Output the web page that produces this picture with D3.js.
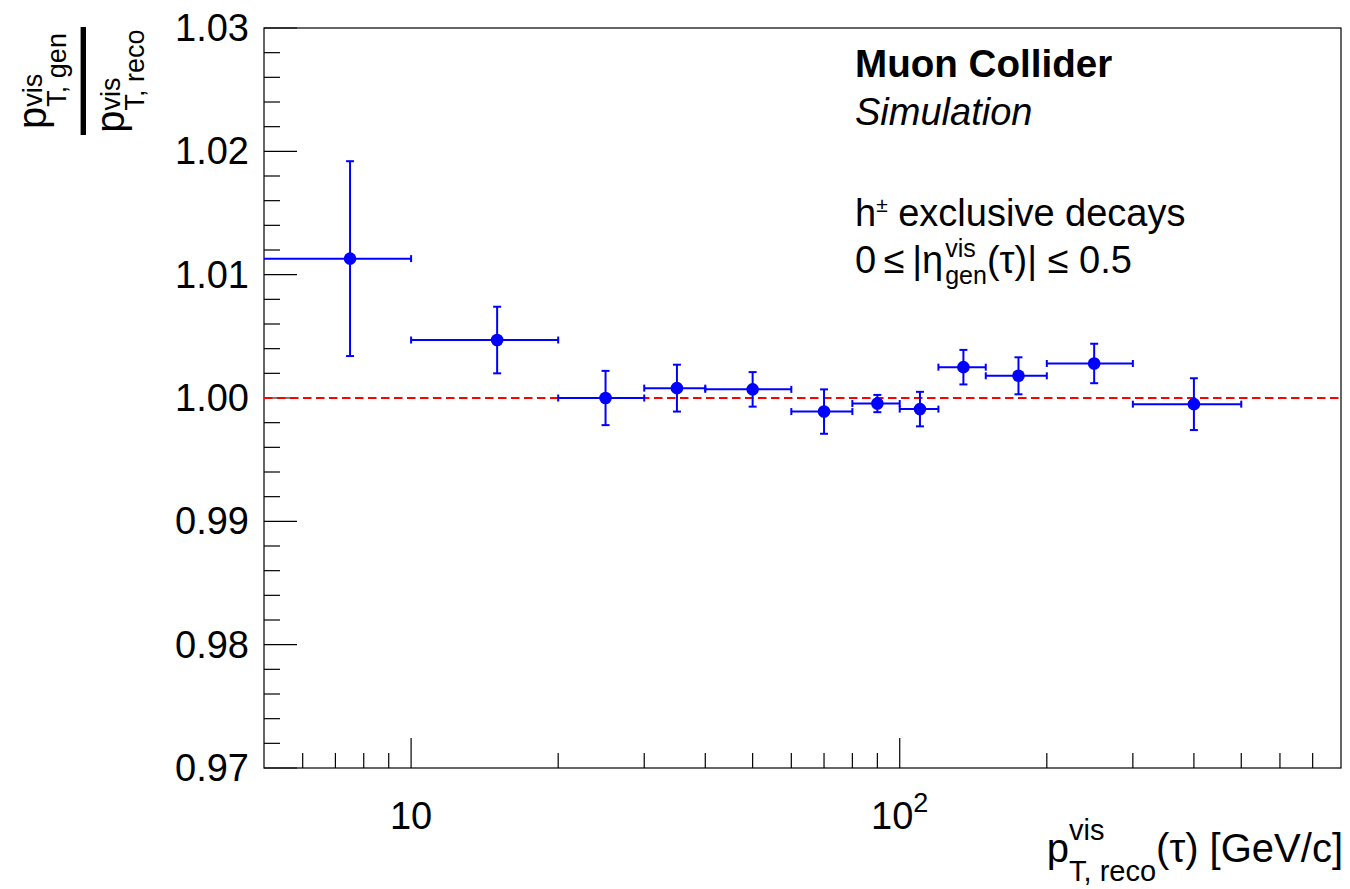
<!DOCTYPE html>
<html>
<head>
<meta charset="utf-8">
<script src="https://cdn.jsdelivr.net/npm/d3@7"></script>
<style>
  body { margin: 0; background: #fff; }
  svg text { font-family: "Liberation Sans", Arial, Helvetica, sans-serif; fill: #000; white-space: pre; }
</style>
</head>
<body>
<svg id="chart" width="1350" height="889"></svg>
<script>
// Bins in reconstructed visible tau pT [GeV/c]
const binLow    = [5, 10, 20, 30, 40, 60, 80, 100, 120, 150, 200, 300];
const binHigh   = [10, 20, 30, 40, 60, 80, 100, 120, 150, 200, 300, 500];
const binCenter = [7.5, 15, 25, 35, 50, 70, 90, 110, 135, 175, 250, 400];
// Mean pT(gen)/pT(reco) per bin and its uncertainty
const ratio    = [1.0113, 1.0047, 1.0000, 1.0008, 1.0007, 0.9989, 0.99955, 0.9991, 1.0025, 1.0018, 1.0028, 0.9995];
const ratioErr = [0.0079, 0.0027, 0.0022, 0.0019, 0.0014, 0.0018, 0.0007, 0.0014, 0.0014, 0.0015, 0.0016, 0.0021];

const yMajorTicks = [0.97, 0.98, 0.99, 1.00, 1.01, 1.02, 1.03];
const yTickLabels = ["0.97", "0.98", "0.99", "1.00", "1.01", "1.02", "1.03"];
const xMajorTicks = [10, 100];
const xTickLabels = [["10", ""], ["10", "2"]];
const xMinorTicks = [6, 7, 8, 9, 20, 30, 40, 50, 60, 70, 80, 90, 200, 300, 400, 500, 600, 700];
const referenceLevel = 1.0;

const frame = { left: 264, right: 1341, top: 28, bottom: 768 };
const svg = d3.select("#chart");

const x = d3.scaleLog().domain([5, 800]).range([frame.left, frame.right]);
const y = d3.scaleLinear().domain([0.97, 1.03]).range([frame.bottom, frame.top]);

const blue = "#0000ff";

// ---- y ticks: majors every 0.01, four minors in between ----
const yMinorTicks = [];
for (let i = 0; i < yMajorTicks.length - 1; i++) {
  for (let k = 1; k < 5; k++) yMinorTicks.push(yMajorTicks[i] + k * 0.002);
}
const axes = svg.append("g").attr("stroke", "#000").attr("stroke-width", 1.2);
axes.selectAll("line.ymaj").data(yMajorTicks).join("line")
  .attr("x1", frame.left).attr("x2", frame.left + 33)
  .attr("y1", d => y(d)).attr("y2", d => y(d));
axes.selectAll("line.ymin").data(yMinorTicks).join("line")
  .attr("x1", frame.left).attr("x2", frame.left + 16)
  .attr("y1", d => y(d)).attr("y2", d => y(d));

// ---- x ticks (log) ----
axes.selectAll("line.xmaj").data(xMajorTicks).join("line")
  .attr("x1", d => x(d)).attr("x2", d => x(d))
  .attr("y1", frame.bottom).attr("y2", frame.bottom - 30);
axes.selectAll("line.xmin").data(xMinorTicks).join("line")
  .attr("x1", d => x(d)).attr("x2", d => x(d))
  .attr("y1", frame.bottom).attr("y2", frame.bottom - 15);

// ---- frame ----
svg.append("rect")
  .attr("x", frame.left).attr("y", frame.top)
  .attr("width", frame.right - frame.left).attr("height", frame.bottom - frame.top)
  .attr("fill", "none").attr("stroke", "#000").attr("stroke-width", 1.2);

// ---- y tick labels ----
svg.selectAll("text.ylab").data(yMajorTicks).join("text")
  .attr("x", frame.left - 15).attr("y", d => y(d))
  .attr("text-anchor", "end").attr("dominant-baseline", "central")
  .style("font-size", "38px")
  .text((d, i) => yTickLabels[i]);

// ---- x tick labels (10, 10^2) ----
xMajorTicks.forEach((v, i) => {
  const g = svg.append("g");
  const base = g.append("text").attr("x", 0).attr("y", 0).style("font-size", "38px").text(xTickLabels[i][0]);
  let w = base.node().getComputedTextLength();
  if (xTickLabels[i][1]) {
    const sup = g.append("text").attr("x", w).attr("y", -17).style("font-size", "27px").text(xTickLabels[i][1]);
    w += sup.node().getComputedTextLength();
  }
  g.attr("transform", `translate(${x(v) - w / 2},829)`);
});

// ---- reference line at 1 ----
svg.append("line")
  .attr("x1", frame.left).attr("x2", frame.right)
  .attr("y1", y(referenceLevel)).attr("y2", y(referenceLevel))
  .attr("stroke", "#ff0000").attr("stroke-width", 2)
  .attr("stroke-dasharray", "8.5,4.5");

// ---- points with error bars ----
const pts = binCenter.map((c, i) => ({ c, lo: binLow[i], hi: binHigh[i], v: ratio[i], e: ratioErr[i] }));
const eb = svg.append("g").attr("stroke", blue).attr("stroke-width", 2).attr("fill", "none");
pts.forEach(p => {
  const cx = x(p.c), cy = y(p.v);
  const xl = x(p.lo), xr = x(p.hi);
  const yt = y(p.v + p.e), yb = y(p.v - p.e);
  eb.append("line").attr("x1", xl).attr("x2", xr).attr("y1", cy).attr("y2", cy);
  eb.append("line").attr("x1", cx).attr("x2", cx).attr("y1", yt).attr("y2", yb);
  // end caps
  if (p.lo > x.domain()[0]) eb.append("line").attr("x1", xl).attr("x2", xl).attr("y1", cy - 3.5).attr("y2", cy + 3.5);
  eb.append("line").attr("x1", xr).attr("x2", xr).attr("y1", cy - 3.5).attr("y2", cy + 3.5);
  eb.append("line").attr("x1", cx - 4).attr("x2", cx + 4).attr("y1", yt).attr("y2", yt);
  eb.append("line").attr("x1", cx - 4).attr("x2", cx + 4).attr("y1", yb).attr("y2", yb);
});
svg.append("g").selectAll("circle").data(pts).join("circle")
  .attr("cx", d => x(d.c)).attr("cy", d => y(d.v)).attr("r", 6.3)
  .attr("fill", blue);

// ---- helper: a run of text with stacked super/subscripts ----
function scriptRun(g, parts, fs) {
  let cx = 0;
  parts.forEach(p => {
    if (p.t !== undefined) {
      const el = g.append("text").attr("x", cx).attr("y", 0)
        .style("font-size", (p.fs || fs) + "px").text(p.t);
      cx += el.node().getComputedTextLength() + (p.after || 0);
    } else {
      let w = 0;
      if (p.sup) {
        const e = g.append("text").attr("x", cx).attr("y", -p.rise)
          .style("font-size", p.sfs + "px").text(p.sup);
        w = Math.max(w, e.node().getComputedTextLength());
      }
      if (p.sub) {
        const e = g.append("text").attr("x", cx).attr("y", p.drop)
          .style("font-size", p.sfs + "px").text(p.sub);
        w = Math.max(w, e.node().getComputedTextLength());
      }
      cx += w + (p.after || 0);
    }
  });
  return cx;
}

// ---- x axis title ----
{
  const g = svg.append("g");
  const w = scriptRun(g, [
    { t: "p" },
    { sup: "vis", sub: "T, reco", sfs: 29, rise: 22, drop: 19 },
    { t: "(τ) [GeV/c]" }
  ], 40);
  g.attr("transform", `translate(${1343 - w},862)`);
}

// ---- y axis title: fraction, rotated ----
{
  const g = svg.append("g").attr("transform", "translate(83.3,81) rotate(-90)");
  g.append("rect").attr("x", -54).attr("y", -2.7).attr("width", 108).attr("height", 5.4).attr("fill", "#000");
  const num = g.append("g");
  const wn = scriptRun(num, [
    { t: "p" },
    { sup: "vis", sub: "T, gen", sfs: 27, rise: 4, drop: 20 }
  ], 40);
  num.attr("transform", `translate(${-wn / 2},-37)`);
  const den = g.append("g");
  const wd = scriptRun(den, [
    { t: "p" },
    { sup: "vis", sub: "T, reco", sfs: 27, rise: 4, drop: 20 }
  ], 40);
  den.attr("transform", `translate(${-wd / 2},41)`);
}

// ---- labels in the plot ----
svg.append("text").attr("x", 855).attr("y", 77).style("font-size", "38.6px")
  .style("font-weight", "bold").text("Muon Collider");
svg.append("text").attr("x", 855).attr("y", 125).style("font-size", "38px")
  .style("font-style", "italic").text("Simulation");
{
  const g = svg.append("g").attr("transform", "translate(855,226)");
  scriptRun(g, [
    { t: "h" },
    { sup: "±", sfs: 21, rise: 14 },
    { t: " exclusive decays" }
  ], 38);
}
{
  const g = svg.append("g").attr("transform", "translate(855,273)");
  scriptRun(g, [
    { t: "0\u2009≤\u2009|η", after: 2 },
    { sup: "vis", sub: "gen", sfs: 25, rise: 16, drop: 11 },
    { t: "(τ)| ≤ 0.5" }
  ], 38);
}
</script>
</body>
</html>
